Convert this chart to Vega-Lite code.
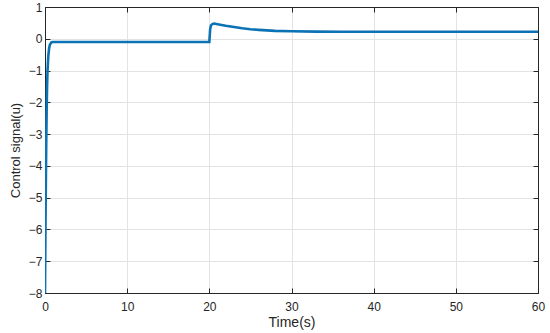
{
  "$schema": "https://vega.github.io/schema/vega-lite/v6.json",
  "autosize": "none",
  "width": 493,
  "height": 286,
  "padding": {"left": 45, "top": 7, "right": 12, "bottom": 40},
  "background": "white",
  "config": {
    "view": {"stroke": null},
    "axis": {
      "labelFont": "Liberation Sans",
      "titleFont": "Liberation Sans",
      "labelFontSize": 12,
      "titleFontSize": 13,
      "titleFontWeight": "normal",
      "labelColor": "#262626",
      "titleColor": "#262626",
      "domainColor": "#262626",
      "tickColor": "#262626",
      "gridColor": "#e3e3e3",
      "gridWidth": 1
    }
  },
  "data": {
    "values": [
      {"t": 0, "u": -8},
      {"t": 0.05, "u": -6.2},
      {"t": 0.1, "u": -4.6},
      {"t": 0.15, "u": -3.3},
      {"t": 0.2, "u": -2.3},
      {"t": 0.25, "u": -1.55},
      {"t": 0.3, "u": -1.05},
      {"t": 0.4, "u": -0.55},
      {"t": 0.5, "u": -0.3},
      {"t": 0.6, "u": -0.18},
      {"t": 0.8, "u": -0.11},
      {"t": 1.0, "u": -0.1},
      {"t": 20.0, "u": -0.1},
      {"t": 20.05, "u": 0.1},
      {"t": 20.1, "u": 0.3},
      {"t": 20.2, "u": 0.42},
      {"t": 20.4, "u": 0.47},
      {"t": 20.6, "u": 0.48},
      {"t": 21, "u": 0.46},
      {"t": 22, "u": 0.41},
      {"t": 23, "u": 0.37},
      {"t": 24, "u": 0.33},
      {"t": 25, "u": 0.3},
      {"t": 26, "u": 0.28},
      {"t": 27, "u": 0.265},
      {"t": 28, "u": 0.25},
      {"t": 30, "u": 0.235},
      {"t": 33, "u": 0.225},
      {"t": 36, "u": 0.22},
      {"t": 40, "u": 0.22},
      {"t": 60, "u": 0.22}
    ]
  },
  "layer": [
    {
      "mark": {"type": "line", "color": "#0a72b5", "strokeWidth": 2.6, "clip": true},
      "encoding": {
        "x": {
          "field": "t", "type": "quantitative",
          "scale": {"domain": [0, 60], "nice": false, "zero": false},
          "axis": {"title": "Time(s)", "titleFontSize": 14, "values": [0,10,20,30,40,50,60], "tickSize": -5, "labelPadding": 13, "titlePadding": 3, "labelFlush": false}
        },
        "y": {
          "field": "u", "type": "quantitative",
          "scale": {"domain": [-8, 1], "nice": false, "zero": false},
          "axis": {"title": "Control signal(u)", "values": [-8,-7,-6,-5,-4,-3,-2,-1,0,1], "tickSize": -5, "labelPadding": 8, "titlePadding": 6, "labelFlush": false}
        }
      }
    },
    {
      "mark": {"type": "line", "opacity": 0},
      "encoding": {
        "x": {
          "field": "t", "type": "quantitative",
          "axis": {"orient": "top", "title": null, "labels": false, "grid": false, "values": [0,10,20,30,40,50,60], "tickSize": -5}
        },
        "y": {
          "field": "u", "type": "quantitative",
          "axis": {"orient": "right", "title": null, "labels": false, "grid": false, "values": [-8,-7,-6,-5,-4,-3,-2,-1,0,1], "tickSize": -5}
        }
      }
    }
  ],
  "resolve": {"axis": {"x": "independent", "y": "independent"}}
}
